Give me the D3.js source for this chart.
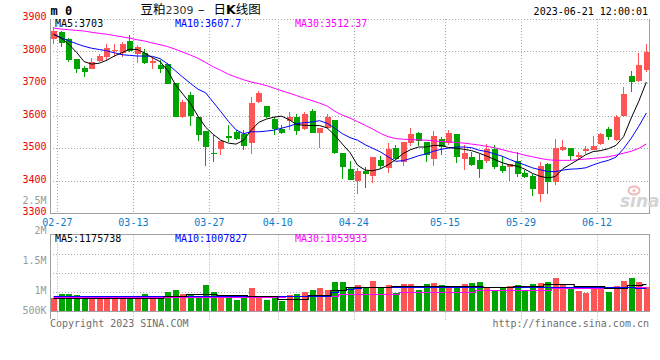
<!DOCTYPE html>
<html><head><meta charset="utf-8">
<script src="https://cdn.jsdelivr.net/npm/d3@7"></script>
<style>
html,body{margin:0;padding:0;background:#fff;}
svg{display:block;}
</style></head><body>
<svg id="chart" width="660" height="360"></svg>
<script>
const dates = ["02-24","02-27","02-28","03-01","03-02","03-03","03-06","03-07","03-08","03-09","03-10",
"03-13","03-14","03-15","03-16","03-17","03-20","03-21","03-22","03-23","03-24",
"03-27","03-28","03-29","03-30","03-31","04-03","04-04","04-06","04-07",
"04-10","04-11","04-12","04-13","04-14","04-17","04-18","04-19","04-20","04-21",
"04-24","04-25","04-26","04-27","04-28","05-04","05-05","05-08","05-09","05-10","05-11","05-12",
"05-15","05-16","05-17","05-18","05-19","05-22","05-23","05-24","05-25","05-26",
"05-29","05-30","05-31","06-01","06-02","06-05","06-06","06-07","06-08","06-09",
"06-12","06-13","06-14","06-15","06-16","06-19","06-20"];
const open  = [3835,3857,3834,3773,3746,3742,3768,3780,3799,3793,3829,3788,3793,3762,3755,3758,3700,3596,3662,3596,
3551,3486,3496,3536,3548,3542,3515,3642,3628,3588,3559,3583,3594,3560,3613,3546,3563,3585,3486,3434,
3398,3428,3414,3462,3440,3501,3457,3514,3547,3519,3467,3529,3514,3542,3465,3472,3462,3460,3498,3445,
3442,3460,3424,3413,3357,3452,3395,3495,3500,3472,3490,3493,3511,3557,3524,3599,3721,3705,3740];
const high  = [3873,3860,3837,3773,3752,3777,3788,3821,3819,3826,3847,3816,3806,3780,3772,3761,3700,3649,3672,3596,
3552,3539,3522,3570,3555,3555,3657,3676,3628,3596,3570,3611,3606,3611,3621,3562,3606,3586,3486,3460,
3437,3442,3472,3475,3514,3508,3518,3563,3549,3519,3552,3534,3555,3542,3508,3488,3483,3511,3508,3475,
3452,3488,3431,3421,3457,3454,3527,3524,3500,3488,3506,3536,3546,3565,3603,3688,3736,3793,3819];
const low   = [3819,3811,3765,3731,3719,3742,3765,3770,3780,3780,3796,3762,3757,3744,3731,3698,3595,3592,3567,3522,
3445,3457,3478,3519,3524,3495,3483,3637,3591,3539,3544,3555,3539,3555,3546,3500,3560,3483,3404,3401,
3360,3377,3392,3434,3423,3462,3445,3505,3506,3457,3445,3478,3508,3454,3431,3445,3408,3454,3434,3422,
3398,3411,3408,3352,3334,3360,3387,3490,3462,3462,3483,3493,3510,3524,3522,3596,3672,3703,3734];
const close = [3859,3823,3772,3742,3734,3765,3783,3808,3801,3819,3799,3811,3762,3767,3742,3698,3596,3642,3598,3541,
3503,3482,3522,3531,3527,3506,3639,3669,3596,3560,3546,3596,3552,3606,3546,3562,3596,3486,3442,3401,
3429,3421,3472,3445,3496,3467,3518,3542,3522,3480,3536,3503,3547,3472,3486,3447,3434,3496,3442,3429,
3450,3419,3411,3373,3445,3395,3500,3503,3475,3480,3496,3505,3542,3534,3596,3665,3703,3755,3795];
const volume = [579,740,740,696,622,622,622,622,622,622,653,653,740,622,622,840,914,740,740,622,
1131,840,696,622,479,622,1014,622,479,622,435,696,740,840,914,1014,914,1275,1275,1057,
1131,987,1318,1057,1131,796,1175,1175,914,1175,1231,1131,987,1088,1175,1231,1275,1057,914,987,
1088,1131,883,1175,1231,1275,1449,1131,987,883,796,1057,987,840,1101,1318,1422,1275,1057].map(v => v * 1000);
const ma5  = [3850,3838,3819,3795,3766,3758,3761,3770,3783,3793,3804,3803,3792,3778,3766,3739,3696,3666,3637,3598,
3564,3542,3524,3515,3512,3524,3555,3579,3589,3595,3598,3587,3572,3570,3569,3569,3562,3539,3512,3486,
3447,3432,3430,3436,3448,3464,3483,3495,3503,3503,3508,3508,3501,3499,3496,3492,3484,3475,3465,3455,
3448,3444,3435,3422,3413,3408,3412,3436,3450,3464,3479,3489,3492,3498,3508,3535,3592,3644,3703];
const ma10 = [3850,3839,3830,3821,3813,3807,3803,3799,3793,3787,3785,3783,3783,3782,3775,3759,3738,3718,3699,3681,
3670,3641,3612,3582,3556,3544,3550,3550,3552,3555,3561,3567,3575,3578,3580,3584,3576,3561,3544,3532,
3524,3510,3499,3488,3473,3459,3461,3468,3476,3482,3490,3496,3500,3503,3503,3501,3493,3489,3482,3475,
3465,3456,3448,3439,3433,3428,3427,3432,3435,3436,3439,3448,3456,3462,3472,3498,3530,3567,3607.7];
const ma30 = [3869,3866,3864,3862,3860,3856,3853,3850,3846,3842,3838,3833,3829,3823,3818,3812,3804,3795,3786,3776,
3763,3750,3739,3727,3718,3710,3703,3698,3692,3684,3676,3669,3661,3653,3646,3638,3629,3613,3601,3592,
3581,3570,3558,3545,3535,3529,3527,3526,3525,3524,3522,3520,3519,3517,3515,3512,3509,3505,3501,3495,
3489,3484,3478,3473,3468,3464,3462,3462,3462,3464,3466,3468,3470,3473,3478,3484,3490,3499,3512.37];
const vma5 = [587,587,587,587,587,587,587,587,587,587,587,587,587,587,587,653,653,653,740,740,
740,740,718,718,718,718,674,674,674,653,522,522,522,522,696,696,696,935,935,1066,
1066,1066,1066,1066,1066,1088,1088,1088,1088,1088,1088,1100,1100,1100,1100,1100,1100,1066,1066,1066,
1066,1088,1088,1088,1088,1196,1196,1196,1196,1088,1088,1088,1088,1022,1022,1022,1130,1150,1176].map(v => v * 1000);
const vma10 = [640,640,640,640,640,640,640,640,640,640,640,640,640,640,640,640,640,640,640,640,
640,640,640,640,640,640,640,640,640,640,640,640,640,640,640,640,640,840,900,950,
1000,1030,1030,1030,1030,1030,1030,1030,1030,1030,1030,1030,1030,1030,1030,1030,1030,1030,1030,1030,
1030,1030,1030,1030,1030,1030,1030,1030,1030,1030,1030,1030,1030,1030,1030,1030,1030,1020,1008].map(v => v * 1000);
const vma30 = [622,622,622,622,622,622,622,622,622,622,622,622,622,622,622,622,622,622,622,622,
622,622,622,622,622,622,622,622,622,622,622,640,640,640,640,640,640,640,720,720,
720,720,720,720,720,720,830,830,830,830,830,830,830,830,830,830,910,910,910,910,
910,910,910,910,910,910,990,990,990,990,990,990,990,1030,1030,1030,1030,1030,1054].map(v => v * 1000);

const priceTicks = [3300,3400,3500,3600,3700,3800,3900];
const dateTicks = ["02-27","03-13","03-27","04-10","04-24","05-15","05-29","06-12"];
const volTicks = [500000,1000000,1500000,2000000,2500000];
const volTickLabels = ["500K","1M","1.5M","2M","2.5M"];

const RED = "#ff5555", GREEN = "#00a400", GRID = "#a8a8a8", FRAME = "#a0a0a0";
const MONO = "'DejaVu Sans Mono', 'Liberation Mono', monospace";

const svg = d3.select("#chart");
const L = 50, R = 650, PT = 19, PB = 213, VT = 234.5, VB = 311;

const x = d3.scaleBand().domain(dates).range([49.8, 650.2]).padding(0);
const bw = x.bandwidth();
const cx = d => x(d) + bw / 2;
const y = d3.scaleLinear().domain([3300, 3800]).range([213, 50.5]);
const yv = d3.scaleLinear().domain([0, 3330000]).range([VB, VT]);
const yvLab = d3.scaleLinear().domain([1000000, 2500000]).range([290.7, 200.7]);

const idx = d3.range(dates.length);
const snap = v => Math.round(v) + 0.5;

// ---- price panel grid
const g = svg.append("g");
g.selectAll(".hg").data(priceTicks.filter(t => t > 3300 && t < 3900)).join("line")
  .attr("x1", L).attr("x2", R).attr("y1", d => snap(y(d))).attr("y2", d => snap(y(d)))
  .attr("stroke", GRID).attr("stroke-dasharray", "1,2");
g.append("line").attr("x1", L).attr("x2", R).attr("y1", PT + 0.5).attr("y2", PT + 0.5)
  .attr("stroke", GRID).attr("stroke-dasharray", "1,2");
g.selectAll(".vg").data(dateTicks).join("line")
  .attr("x1", d => snap(x(d))).attr("x2", d => snap(x(d))).attr("y1", PT).attr("y2", PB)
  .attr("stroke", GRID).attr("stroke-dasharray", "1,2");
// volume grid
g.selectAll(".vvg").data(dateTicks).join("line")
  .attr("x1", d => snap(x(d))).attr("x2", d => snap(x(d))).attr("y1", VT).attr("y2", 320)
  .attr("stroke", GRID).attr("stroke-dasharray", "1,2");
g.selectAll(".vhg").data([0.25, 0.5, 0.75]).join("line")
  .attr("x1", L).attr("x2", R).attr("y1", d => snap(VT + (VB - VT) * d)).attr("y2", d => snap(VT + (VB - VT) * d))
  .attr("stroke", GRID).attr("stroke-dasharray", "1,2");

// frames
const fr = svg.append("g").attr("stroke", FRAME).attr("shape-rendering", "crispEdges");
fr.append("line").attr("x1", L + 0.5).attr("x2", L + 0.5).attr("y1", PT).attr("y2", PB + 1);
fr.append("line").attr("x1", R - 0.5).attr("x2", R - 0.5).attr("y1", PT).attr("y2", PB + 1);
fr.append("line").attr("x1", L).attr("x2", R).attr("y1", PB + 0.5).attr("y2", PB + 0.5);
fr.append("line").attr("x1", L + 0.5).attr("x2", L + 0.5).attr("y1", VT).attr("y2", 319);
fr.append("line").attr("x1", R - 0.5).attr("x2", R - 0.5).attr("y1", VT).attr("y2", VB);
fr.append("line").attr("x1", L).attr("x2", R).attr("y1", VT).attr("y2", VT);
fr.append("line").attr("x1", L).attr("x2", R).attr("y1", VB + 0.5).attr("y2", VB + 0.5);

// watermark
const wm = svg.append("g");
wm.append("ellipse").attr("cx", 634).attr("cy", 190.5).attr("rx", 5.5).attr("ry", 4)
  .attr("fill", "none").attr("stroke", "#f2b8b8").attr("stroke-width", 2);
wm.append("circle").attr("cx", 634).attr("cy", 190.5).attr("r", 1.6).attr("fill", "#f2b8b8");
wm.append("text").attr("x", 620).attr("y", 207).attr("font-family", "'DejaVu Sans', sans-serif")
  .attr("font-style", "italic").attr("font-weight", "bold").attr("font-size", 17)
  .attr("fill", "#d4d4d4").text("sina");

// ---- candles
const cg = svg.append("g").attr("shape-rendering", "crispEdges");
const col = i => close[i] >= open[i] ? RED : GREEN;
cg.selectAll(".wick").data(idx).join("line")
  .attr("x1", i => Math.floor(cx(dates[i])) + 0.5).attr("x2", i => Math.floor(cx(dates[i])) + 0.5)
  .attr("y1", i => y(high[i])).attr("y2", i => y(low[i]))
  .attr("stroke", col);
cg.selectAll(".body").data(idx).join("rect")
  .attr("x", i => Math.floor(cx(dates[i])) - 2).attr("width", 6)
  .attr("y", i => y(Math.max(open[i], close[i])))
  .attr("height", i => Math.max(1, Math.abs(y(open[i]) - y(close[i]))))
  .attr("fill", col);

// MA lines
const line = arr => d3.line().x(i => cx(dates[i])).y(i => y(arr[i]))(idx);
svg.append("path").attr("d", line(ma30)).attr("fill", "none").attr("stroke", "#ff00ff").attr("stroke-width", 1);
svg.append("path").attr("d", line(ma10)).attr("fill", "none").attr("stroke", "#0000ff").attr("stroke-width", 1);
svg.append("path").attr("d", line(ma5)).attr("fill", "none").attr("stroke", "#000").attr("stroke-width", 1);

// volume bars
svg.append("g").attr("shape-rendering", "crispEdges").selectAll("rect").data(idx).join("rect")
  .attr("x", i => Math.floor(cx(dates[i])) - 2.5).attr("width", 6)
  .attr("y", i => yv(volume[i])).attr("height", i => VB - yv(volume[i]))
  .attr("fill", col);
const vline = arr => d3.line().curve(d3.curveStep).x(i => cx(dates[i])).y(i => Math.round(yv(arr[i])) + 0.5)(idx);
svg.append("path").attr("d", vline(vma30)).attr("fill", "none").attr("stroke", "#ff00ff").attr("stroke-width", 1.2);
svg.append("path").attr("d", vline(vma10)).attr("fill", "none").attr("stroke", "#0000ff").attr("stroke-width", 1.2);
svg.append("path").attr("d", vline(vma5)).attr("fill", "none").attr("stroke", "#000").attr("stroke-width", 1.2);

// ---- texts
const T = svg.append("g").attr("font-family", MONO).attr("font-size", 10);
T.selectAll(".pl").data(priceTicks).join("text")
  .attr("x", 46.5).attr("y", d => y(d) - 1.5).attr("dominant-baseline", "central")
  .attr("text-anchor", "end").attr("fill", "#ee0000").text(d => d);
T.selectAll(".dl").data(dateTicks).join("text")
  .attr("x", d => x(d)).attr("y", 225.5).attr("text-anchor", "middle").attr("fill", "#0a7ccc").text(d => d);
T.selectAll(".vl").data(volTicks).join("text")
  .attr("x", 46.5).attr("y", d => Math.min(yvLab(d), 310.7)).attr("dominant-baseline", "central")
  .attr("text-anchor", "end").attr("fill", "#9a9a9a").text((d, i) => volTickLabels[i]);

// legends
const leg = [["MA5:" + d3.format(".0f")(ma5[ma5.length - 1]), "#000", 55],
             ["MA10:" + ma10[ma10.length - 1], "#0000ff", 175],
             ["MA30:" + ma30[ma30.length - 1], "#ff00ff", 295]];
T.selectAll(".lg").data(leg).join("text").attr("x", d => d[2]).attr("y", 26.5)
  .attr("fill", d => d[1]).text(d => d[0]);
const vleg = [["MA5:1175738", "#000", 55], ["MA10:1007827", "#0000ff", 175], ["MA30:1053933", "#ff00ff", 295]];
T.selectAll(".vlg").data(vleg).join("text").attr("x", d => d[2]).attr("y", 242)
  .attr("fill", d => d[1]).text(d => d[0]);

T.append("text").attr("x", 50).attr("y", 327).attr("fill", "#6e6e6e").text("Copyright 2023 SINA.COM");
T.append("text").attr("x", 649).attr("y", 327).attr("text-anchor", "end").attr("fill", "#6e6e6e").text("http://finance.sina.com.cn");
T.append("text").attr("x", 648).attr("y", 15).attr("text-anchor", "end").attr("fill", "#000").text("2023-06-21 12:00:01");
T.append("text").attr("x", 50.5).attr("y", 15).attr("font-weight", "bold").attr("font-size", 12).attr("fill", "#000").text("m 0");

const title = svg.append("text").attr("y", 14).attr("font-family", "'Noto Sans CJK SC', sans-serif")
  .attr("font-size", 12.5).attr("fill", "#000");
title.append("tspan").attr("x", 140.5).text("豆粕");
title.append("tspan").attr("x", 165.5).attr("fill", "#333").attr("font-family", "'DejaVu Sans', sans-serif").attr("font-size", 11).text("2309");
title.append("tspan").attr("x", 198).text("–");
title.append("tspan").attr("x", 213.5).text("日");
title.append("tspan").attr("font-weight", "bold").attr("font-family", "'DejaVu Sans', sans-serif").text("K");
title.append("tspan").text("线图");
</script>
</body></html>
